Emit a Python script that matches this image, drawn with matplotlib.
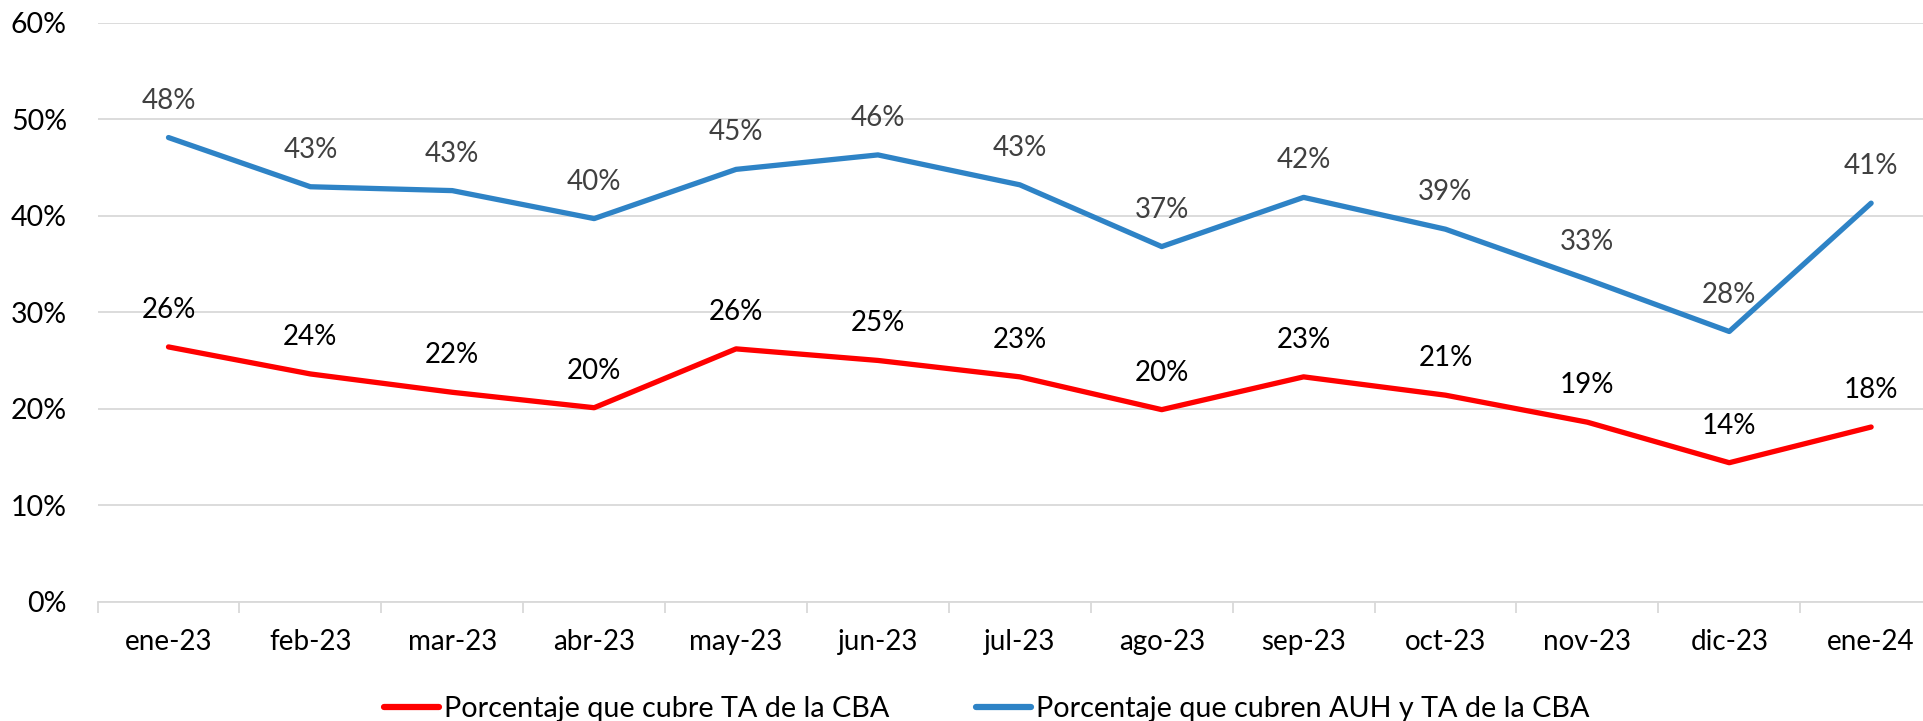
import matplotlib
matplotlib.use("Agg")
import matplotlib.pyplot as plt
from matplotlib import font_manager

categories = ["ene-23", "feb-23", "mar-23", "abr-23", "may-23", "jun-23", "jul-23",
              "ago-23", "sep-23", "oct-23", "nov-23", "dic-23", "ene-24"]
ta_cba = [26.4, 23.6, 21.7, 20.1, 26.2, 25.0, 23.3, 19.9, 23.3, 21.4, 18.6, 14.4, 18.1]
auh_ta_cba = [48.1, 43.0, 42.6, 39.7, 44.8, 46.3, 43.2, 36.8, 41.9, 38.6, 33.4, 28.0, 41.3]
ta_labels = ["26%", "24%", "22%", "20%", "26%", "25%", "23%", "20%", "23%", "21%", "19%", "14%", "18%"]
auh_labels = ["48%", "43%", "43%", "40%", "45%", "46%", "43%", "37%", "42%", "39%", "33%", "28%", "41%"]
yticks = [0, 10, 20, 30, 40, 50, 60]
ytick_labels = ["0%", "10%", "20%", "30%", "40%", "50%", "60%"]
series_names = ["Porcentaje que cubre TA de la CBA", "Porcentaje que cubren AUH y TA de la CBA"]

names = {f.name for f in font_manager.fontManager.ttflist}
main_font = ["Lato", "DejaVu Sans"] if "Lato" in names else ["DejaVu Sans"]
legend_font = ["Liberation Sans Narrow", "DejaVu Sans"] if "Liberation Sans Narrow" in names else main_font
plt.rcParams["font.family"] = main_font

RED = "#FF0000"
BLUE = "#2E83C6"
GRID = "#D9D9D9"

fig = plt.figure(figsize=(19.24, 7.21), dpi=100)
ax = fig.add_axes([0.0507, 0.1655, 0.9587, 0.803])

x = list(range(len(categories)))
l1, = ax.plot(x, ta_cba, color=RED, lw=3.8, solid_capstyle="round", solid_joinstyle="round", zorder=3)
l2, = ax.plot(x, auh_ta_cba, color=BLUE, lw=3.8, solid_capstyle="round", solid_joinstyle="round", zorder=3)

FS = 20
for xi, v, t in zip(x, ta_cba, ta_labels):
    ax.annotate(t, (xi, v), xytext=(0, 26.6), textcoords="offset points",
                ha="center", va="center", fontsize=FS, color="#000000")
for xi, v, t in zip(x, auh_ta_cba, auh_labels):
    ax.annotate(t, (xi, v), xytext=(0, 26.6), textcoords="offset points",
                ha="center", va="center", fontsize=FS, color="#404040")

ax.set_xlim(-0.5, len(categories) - 0.5)
ax.set_ylim(0, 60)
ax.set_yticks(yticks)
ax.set_yticklabels(ytick_labels, fontsize=20.5)
ax.set_xticks(x)
ax.set_xticklabels(categories, fontsize=FS)
ax.set_xticks([i - 0.5 for i in range(len(categories) + 1)], minor=True)
ax.tick_params(axis="x", which="major", length=0, pad=20)
ax.tick_params(axis="x", which="minor", length=8, width=1.3, color=GRID)
ax.tick_params(axis="y", length=0, pad=22)
for lab in ax.get_yticklabels():
    lab.set_horizontalalignment("right")

ax.grid(axis="y", color=GRID, lw=1.3, zorder=0)
for s in ["top", "right", "left"]:
    ax.spines[s].set_visible(False)
ax.spines["bottom"].set_color(GRID)
ax.spines["bottom"].set_linewidth(1.3)

leg = fig.legend([l1, l2], series_names, loc="center", bbox_to_anchor=(0.513, 0.016),
                 ncol=2, frameon=False, handlelength=1.9, handletextpad=0.2,
                 columnspacing=3.0, prop={"family": legend_font, "size": 20.7})
for h in leg.get_lines():
    h.set_linewidth(4.5)
    h.set_solid_capstyle("round")

fig.savefig("out.png", dpi=100)
